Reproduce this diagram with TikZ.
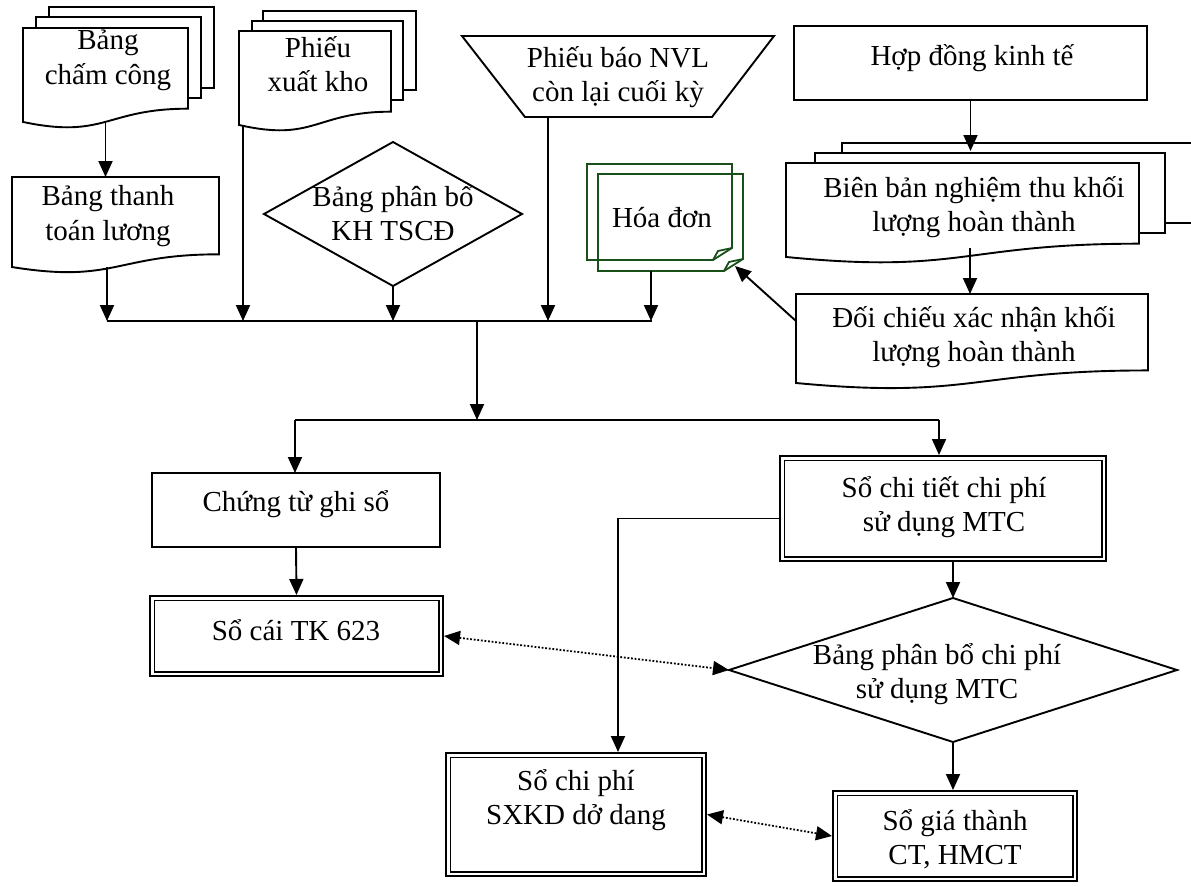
\documentclass[tikz,border=0pt]{standalone}
\usepackage{fontspec}
\setmainfont{Liberation Serif}
\usetikzlibrary{arrows.meta,calc,shapes.geometric}
\definecolor{invgreen}{RGB}{25,80,25}
% strut giving every text block the same top and bottom
\newcommand\tstrut{\rule[-8pt]{0pt}{34.5pt}}
% flowchart "document" outline on the bounding box of a node
\newcommand\docoutline[2][]{%
  \draw[outline,#1] (#2.north west) -- (#2.north east)
    -- ($(#2.north east)!0.802!(#2.south east)$)
    .. controls ($(#2.north)!0.802!(#2.south)$) and ($(#2.north)!1.107!(#2.south)$)
    .. ($(#2.north west)!0.934!(#2.south west)$) -- cycle;}
% sheet with a folded bottom-right corner, between two named corners
\newcommand\foldsheet[2]{%
  \draw[sheet] (#1) -- (#2 |- #1) -- ($(#2)+(0,-12)$) -- ($(#2)+(-19,0)$) -- (#1 |- #2) -- cycle;
  \draw[sheet] ($(#2)+(-19,0)$) -- ($(#2)+(-14,-9)$) -- ($(#2)+(0,-12)$);}
\begin{document}
\begin{tikzpicture}[x=1pt,y=-1pt,
  outline/.style={line width=1.9pt},
  sheet/.style={draw=invgreen,line width=1.8pt},
  shapebox/.style={rectangle,draw=none,inner sep=0pt,outer sep=0pt},
  plainbox/.style={rectangle,draw,line width=1.9pt,inner sep=0pt,outer sep=0pt},
  dblbox/.style={rectangle,draw,line width=1.9pt,double,double distance=2.6pt,inner sep=0pt,outer sep=3.2pt},
  dmd/.style={diamond,draw,line width=1.9pt,inner sep=0pt,outer sep=0pt},
  txt/.style={inner sep=0pt,align=center,font=\fontsize{29}{34.5}\selectfont,
    execute at begin node=\tstrut,execute at end node=\tstrut},
  link/.style={line width=1.9pt},
  arr/.style={line width=1.9pt,-{Triangle[length=16pt,width=14pt]}},
  dotarr/.style={line width=1.8pt,dash pattern=on 1.8pt off 1.8pt,
    {Triangle[length=16pt,width=14pt]}-{Triangle[length=16pt,width=14pt]}},
]
\useasboundingbox[fill=white] (0,0) rectangle (1191,886);

% ---------- shapes ----------
% Bang cham cong (stack of three documents)
\draw[outline,fill=white] (49,88) -- (214,88) -- (214,7) -- (49,7) -- cycle;
\draw[outline,fill=white] (36,98) -- (201,98) -- (201,17) -- (36,17) -- cycle;
\node[shapebox,minimum width=165pt,minimum height=100.6pt] (bcc) at (105.5,78.3) {};
\docoutline[fill=white]{bcc}

% Phieu xuat kho (stack of three documents)
\draw[outline,fill=white] (263,90) -- (416,90) -- (416,11) -- (263,11) -- cycle;
\draw[outline,fill=white] (252,100) -- (403,100) -- (403,21) -- (252,21) -- cycle;
\node[shapebox,minimum width=152pt,minimum height=100.6pt] (pxk) at (315,81.3) {};
\docoutline[fill=white]{pxk}

% Bang thanh toan luong
\node[shapebox,minimum width=207pt,minimum height=96.4pt] (btt) at (115.5,225.2) {};
\docoutline{btt}

% Bang phan bo KH TSCD
\node[dmd,minimum width=258pt,minimum height=144pt] (kh) at (393,214) {};

% Phieu bao NVL con lai cuoi ky (manual operation)
\node[shapebox,minimum width=312pt,minimum height=81pt] (nvl) at (618,76.5) {};
\draw[outline] (nvl.north west) -- (nvl.north east) -- ($(nvl.south east)+(-62,0)$)
  -- ($(nvl.south west)+(63,0)$) -- cycle;

% Hoa don (two folded sheets)
\node[shapebox,minimum width=145pt,minimum height=97pt] (hd) at (670.5,222.5) {};
\coordinate (hdb-nw) at ($(hd.north west)+(-11,-10)$);
\coordinate (hdb-se) at ($(hd.south east)+(-11,-11)$);
\foldsheet{hdb-nw}{hdb-se}
\foldsheet{hd.north west}{hd.south east}

% Hop dong kinh te
\node[plainbox,minimum width=353pt,minimum height=74pt] (hdkt) at (970.5,63) {};

% Bien ban nghiem thu (stack of three documents)
\draw[outline,fill=white] (842,223) -- (1220,223) -- (1220,143) -- (842,143) -- cycle;
\draw[outline,fill=white] (815,233) -- (1165,233) -- (1165,153) -- (815,153) -- cycle;
\node[shapebox,minimum width=353pt,minimum height=100.6pt] (bbn) at (962.5,213.3) {};
\docoutline[fill=white]{bbn}

% Doi chieu xac nhan
\node[shapebox,minimum width=352pt,minimum height=95.3pt] (dc) at (972,341.65) {};
\docoutline{dc}

% Lower part
\node[plainbox,minimum width=288pt,minimum height=74pt] (ctgs) at (296,510) {};
\node[dblbox,minimum width=288.6pt,minimum height=75.6pt] (socai) at (296.5,636) {};
\node[dblbox,minimum width=321.6pt,minimum height=100.6pt] (sct) at (943,508.5) {};
\node[dmd,minimum width=448pt,minimum height=144pt] (mtc) at (953,670) {};
\node[dblbox,minimum width=255.6pt,minimum height=118.6pt] (sxkd) at (576,814.5) {};
\node[dblbox,minimum width=239.6pt,minimum height=85.6pt] (sgt) at (955,836) {};

% ---------- connectors ----------
\coordinate (bcc-out) at ($(bcc.north)!0.933!(bcc.south)$);
\coordinate (btt-out) at (107,267);
\coordinate (pxk-out) at (243,126);
\coordinate (nvl-out) at (548,117);
\coordinate (hd-out) at (651,271);
\coordinate (busL) at (107,321);
\coordinate (busR) at (652,321);
\coordinate (split) at (477,420);
\coordinate (splitL) at (295,420);
\coordinate (splitR) at (939,420);
\coordinate (bbn-top) at (971,151);
\coordinate (bbn-out) at (970,248);
\coordinate (dc-in) at ($(dc.north west)+(0,27)$);
\coordinate (hd-corner) at ($(hd.south east)+(-8,-5)$);
\coordinate (sct-left) at ($(sct.west)+(0,10)$);
\coordinate (sxkd-in) at ($(sxkd.north)+(42,0)$);

\draw[arr] (bcc-out) -- (bcc-out |- btt.north);
\draw[arr] (btt-out) -- (busL);
\draw[arr] (pxk-out) -- (pxk-out |- busL);
\draw[arr] (kh.south) -- (kh.south |- busL);
\draw[arr] (nvl-out) -- (nvl-out |- busL);
\draw[arr] (hd-out) -- (hd-out |- busL);
\draw[link] (busL) -- (busR);
\draw[arr] (split |- busL) -- (split);
\draw[link] (splitL) -- (splitR);
\draw[arr] (splitL) -- (splitL |- ctgs.north);
\draw[arr] (splitR) -- (splitR |- sct.north);
\draw[arr] (hdkt.south) -- (hdkt.south |- bbn-top);
\draw[arr] (bbn-out) -- (bbn-out |- dc.north);
\draw[arr] (dc-in) -- (hd-corner);
\draw[arr] (ctgs.south) -- (socai.north);
\draw[arr] (sct-left) -| (sxkd-in);
\draw[arr] (mtc.north |- sct.south) -- (mtc.north);
\draw[arr] (mtc.south) -- (mtc.south |- sgt.north);
\draw[dotarr] (socai.east) -- (mtc.west);
\draw[dotarr] (sxkd.east) -- (sgt.west);

% ---------- texts ----------
\node[txt] (bcc-t) at (108,61) {Bảng\\chấm công};
\node[txt] (pxk-t) at (318,68) {Phiếu\\xuất kho};
\node[txt] (btt-t) at (108,217) {Bảng thanh\\toán lương};
\node[txt] (kh-t) at (393,217) {Bảng phân bổ\\KH TSCĐ};
\node[txt] (nvl-t) at (618,78) {Phiếu báo NVL\\còn lại cuối kỳ};
\node[txt] (hd-t) at (662,218) {Hóa đơn};
\node[txt] (hdkt-t) at (972,56) {Hợp đồng kinh tế};
\node[txt] (bbn-t) at (974,208) {Biên bản nghiệm thu khối\\lượng hoàn thành};
\node[txt] (dc-t) at (974,338) {Đối chiếu xác nhận khối\\lượng hoàn thành};
\node[txt] (ctgs-t) at (296,502) {Chứng từ ghi sổ};
\node[txt] (socai-t) at (296,631) {Sổ cái TK 623};
\node[txt] (sct-t) at (944,508) {Sổ chi tiết chi phí\\sử dụng MTC};
\node[txt] (mtc-t) at (937,675) {Bảng phân bổ chi phí\\sử dụng MTC};
\node[txt] (sxkd-t) at (576,801) {Sổ chi phí\\SXKD dở dang};
\node[txt] (sgt-t) at (955,841) {Sổ giá thành\\CT, HMCT};
\end{tikzpicture}
\end{document}
